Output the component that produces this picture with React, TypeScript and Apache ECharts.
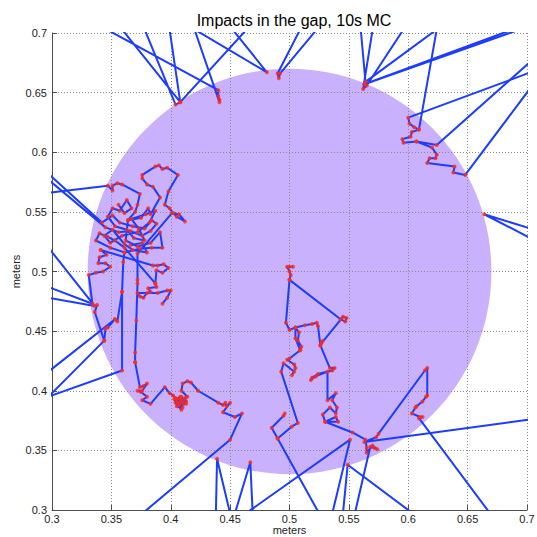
import { useEffect, useRef } from 'react';
import * as echarts from 'echarts';

const chartTitle = 'Impacts in the gap, 10s MC';
const axisName = 'meters';
const xTicks = [0.3, 0.35, 0.4, 0.45, 0.5, 0.55, 0.6, 0.65, 0.7];
const yTicks = [0.3, 0.35, 0.4, 0.45, 0.5, 0.55, 0.6, 0.65, 0.7];
const gapCenter = [0.5, 0.5];
const gapRadius = 0.17;

// Impact trajectory pieces (meters); points beyond 0.3..0.7 lie outside the axes and are clipped
const topLeftFan = [[0.346,0.703],[0.440,0.652],[0.440,0.647],[0.441,0.644],[0.441,0.642],[0.420,0.703],[0.481,0.667],[0.452,0.703],[0.464,0.703],[0.408,0.642],[0.399,0.703],[0.378,0.703],[0.404,0.640],[0.408,0.642],[0.359,0.703]];
const topPair = [[0.509,0.703],[0.490,0.666],[0.491,0.662],[0.492,0.666],[0.523,0.703]];
const topRightFan = [[0.703,0.667],[0.600,0.629],[0.601,0.624],[0.605,0.621],[0.609,0.619],[0.624,0.703],[0.564,0.659],[0.560,0.703],[0.570,0.703],[0.562,0.653],[0.565,0.656],[0.596,0.703],[0.688,0.703],[0.563,0.657],[0.694,0.703]];
const arcUpper = [[0.703,0.676],[0.624,0.606],[0.607,0.609],[0.596,0.608],[0.595,0.611],[0.602,0.613],[0.603,0.617],[0.609,0.619]];
const arcLower = [[0.607,0.609],[0.620,0.604],[0.624,0.598],[0.623,0.595],[0.618,0.595],[0.616,0.591],[0.639,0.588],[0.638,0.583],[0.648,0.581],[0.703,0.654]];
const rightEdge = [[0.703,0.536],[0.664,0.548],[0.703,0.528]];
const clusterLoop = [[0.297,0.566],[0.347,0.572],[0.351,0.568],[0.351,0.572],[0.355,0.574],[0.359,0.573],[0.374,0.565],[0.372,0.556],[0.370,0.550],[0.364,0.543],[0.375,0.545],[0.381,0.553],[0.383,0.548],[0.391,0.562],[0.385,0.571],[0.380,0.573],[0.376,0.578],[0.376,0.581],[0.387,0.588],[0.390,0.589],[0.393,0.586],[0.397,0.587],[0.406,0.581],[0.398,0.567],[0.395,0.556],[0.399,0.553],[0.402,0.549],[0.405,0.546],[0.412,0.542],[0.407,0.548],[0.401,0.549],[0.372,0.515],[0.372,0.493],[0.372,0.490],[0.371,0.459],[0.370,0.432],[0.370,0.424]];
const clusterCore = [[0.297,0.582],[0.342,0.541],[0.351,0.547],[0.357,0.541],[0.368,0.538],[0.378,0.536],[0.384,0.543],[0.388,0.540],[0.383,0.534],[0.376,0.530],[0.366,0.534],[0.356,0.533],[0.345,0.537],[0.297,0.577]];
const clusterTangle = [[0.356,0.556],[0.361,0.549],[0.367,0.553],[0.363,0.560],[0.357,0.551],[0.351,0.553],[0.347,0.546],[0.353,0.538],[0.363,0.535],[0.369,0.528],[0.378,0.526],[0.373,0.536],[0.367,0.544],[0.379,0.548],[0.387,0.551],[0.382,0.541],[0.372,0.533],[0.359,0.530],[0.349,0.524],[0.344,0.530],[0.351,0.535],[0.361,0.523],[0.368,0.518],[0.380,0.516],[0.376,0.524],[0.366,0.522]];
const clusterLower = [[0.364,0.543],[0.362,0.526],[0.372,0.521],[0.383,0.524],[0.391,0.533],[0.393,0.520],[0.384,0.520],[0.374,0.519],[0.361,0.516],[0.349,0.520],[0.337,0.526],[0.340,0.532],[0.347,0.529],[0.353,0.526],[0.361,0.520],[0.387,0.490],[0.388,0.487],[0.381,0.486],[0.383,0.483],[0.380,0.482],[0.377,0.478],[0.374,0.479],[0.372,0.482],[0.389,0.482],[0.397,0.484],[0.400,0.484],[0.397,0.478],[0.393,0.473]];
const clusterSmallLoop = [[0.341,0.518],[0.385,0.505],[0.389,0.505],[0.394,0.506],[0.398,0.503],[0.393,0.499],[0.388,0.501],[0.387,0.490]];
const clusterLeftEdge = [[0.341,0.518],[0.346,0.514],[0.340,0.512],[0.339,0.507],[0.345,0.507],[0.349,0.504],[0.343,0.500],[0.337,0.499],[0.331,0.497],[0.334,0.473],[0.297,0.487],[0.297,0.478],[0.336,0.471],[0.297,0.520]];
const clusterVertical = [[0.361,0.516],[0.360,0.508],[0.359,0.483],[0.359,0.417],[0.297,0.395],[0.344,0.442],[0.336,0.466],[0.338,0.472]];
const clusterSpur = [[0.297,0.416],[0.353,0.460],[0.355,0.458],[0.359,0.483]];
const clusterSpur2 = [[0.353,0.460],[0.347,0.453],[0.345,0.452],[0.344,0.442]];
const lowerLeftWalk = [[0.370,0.424],[0.374,0.403],[0.377,0.404],[0.380,0.406],[0.376,0.400],[0.372,0.400],[0.375,0.399],[0.380,0.395],[0.376,0.392],[0.383,0.389],[0.395,0.403],[0.399,0.398],[0.402,0.396],[0.405,0.393],[0.408,0.395],[0.410,0.392],[0.406,0.390],[0.409,0.384],[0.404,0.390],[0.403,0.393],[0.407,0.388],[0.411,0.389],[0.413,0.391],[0.412,0.394],[0.414,0.395],[0.409,0.400],[0.410,0.406],[0.414,0.408],[0.417,0.407],[0.423,0.400],[0.440,0.390],[0.444,0.388],[0.446,0.390],[0.447,0.387],[0.450,0.390],[0.444,0.382],[0.454,0.378],[0.460,0.381],[0.450,0.359],[0.376,0.297]];
const lowerLeftKnot = [[0.404,0.394],[0.408,0.390],[0.405,0.387],[0.410,0.386],[0.408,0.393],[0.413,0.389],[0.409,0.395]];
const bottomV1 = [[0.438,0.297],[0.439,0.343],[0.450,0.297]];
const bottomV2 = [[0.454,0.297],[0.467,0.340],[0.469,0.297]];
const bottomV3 = [[0.463,0.297],[0.551,0.359],[0.536,0.297]];
const bottomV4 = [[0.545,0.297],[0.549,0.338],[0.604,0.297]];
const centreWalk = [[0.503,0.504],[0.500,0.504],[0.498,0.504],[0.500,0.500],[0.501,0.497],[0.500,0.493],[0.497,0.457],[0.500,0.451],[0.505,0.453],[0.508,0.449],[0.507,0.442],[0.510,0.437],[0.509,0.434],[0.505,0.444],[0.505,0.453],[0.513,0.455],[0.519,0.456],[0.523,0.457],[0.524,0.454],[0.526,0.438],[0.528,0.442],[0.527,0.440],[0.545,0.462],[0.548,0.461],[0.547,0.458],[0.543,0.460],[0.500,0.493]];
const centreLower = [[0.526,0.438],[0.534,0.419],[0.538,0.419],[0.536,0.417],[0.524,0.414],[0.519,0.411],[0.518,0.409],[0.522,0.412],[0.532,0.416],[0.532,0.392],[0.539,0.398],[0.536,0.392],[0.540,0.386],[0.539,0.381],[0.534,0.386],[0.528,0.380],[0.530,0.374],[0.541,0.374],[0.539,0.378],[0.530,0.374],[0.553,0.365],[0.564,0.359],[0.565,0.352],[0.565,0.348],[0.570,0.354],[0.572,0.352],[0.574,0.351],[0.568,0.353],[0.555,0.297]];
const centreRight = [[0.703,0.376],[0.563,0.357],[0.573,0.361],[0.575,0.364],[0.614,0.417],[0.616,0.419],[0.616,0.396],[0.615,0.395],[0.612,0.391],[0.607,0.387],[0.606,0.386],[0.603,0.381],[0.610,0.378],[0.612,0.378],[0.609,0.377],[0.669,0.297]];
const centreLeft = [[0.509,0.434],[0.500,0.427],[0.498,0.426],[0.504,0.422],[0.505,0.419],[0.502,0.413],[0.504,0.416],[0.495,0.423],[0.493,0.416],[0.507,0.373],[0.502,0.370],[0.490,0.360],[0.485,0.369],[0.495,0.379],[0.496,0.381]];
const centreTail = [[0.490,0.360],[0.525,0.297]];

const paths = [
  topLeftFan, topPair, topRightFan, arcUpper, arcLower, rightEdge,
  clusterLoop, clusterCore, clusterTangle, clusterLower, clusterSmallLoop, clusterLeftEdge,
  clusterVertical, clusterSpur, clusterSpur2, lowerLeftWalk, lowerLeftKnot,
  bottomV1, bottomV2, bottomV3, bottomV4,
  centreWalk, centreLower, centreRight, centreLeft, centreTail,
];

const FONT = '"Liberation Sans", Arial, Helvetica, sans-serif';
const fmt = (v: number) => String(parseFloat(v.toFixed(2)));

export default function App() {
  const ref = useRef<HTMLDivElement>(null);
  useEffect(() => {
    if (!ref.current) return;
    const chart = echarts.init(ref.current, null, { renderer: 'svg' });
    const lo = xTicks[0], hi = xTicks[xTicks.length - 1];
    const ylo = yTicks[0], yhi = yTicks[yTicks.length - 1];
    const inside = (p: number[]) => p[0] > lo && p[0] < hi && p[1] > ylo && p[1] < yhi;
    const dots: number[][] = [];
    paths.forEach((p) => p.forEach((pt) => { if (inside(pt)) dots.push(pt); }));

    const axisCommon = {
      type: 'value',
      nameLocation: 'middle',
      name: axisName,
      nameMoveOverlap: false,
      nameTextStyle: { fontSize: 11, color: '#222', fontFamily: FONT, lineHeight: 12 },
      axisLine: { show: true, onZero: false, lineStyle: { color: '#4d4d4d', width: 1 } },
      axisTick: { show: true, inside: true, length: 5, lineStyle: { color: '#4d4d4d' } },
      splitLine: { show: true, lineStyle: { color: '#8a8a8a', type: [1, 2], width: 1 } },
      z: 1,
    };

    chart.setOption({
      animation: false,
      backgroundColor: '#ffffff',
      textStyle: { fontFamily: FONT },
      title: {
        text: chartTitle,
        left: 289,
        top: 7,
        textAlign: 'center',
        textStyle: { fontSize: 16, fontWeight: 'normal', color: '#000', fontFamily: FONT },
      },
      grid: { left: 52, right: 10, top: 33, bottom: 27, containLabel: false, outerBoundsMode: 'none' },
      xAxis: {
        ...axisCommon,
        min: lo, max: hi, interval: xTicks[1] - xTicks[0],
        nameGap: 14,
        axisLabel: { fontSize: 11, color: '#222', margin: 3, formatter: fmt, fontFamily: FONT },
      },
      yAxis: {
        ...axisCommon,
        min: ylo, max: yhi, interval: yTicks[1] - yTicks[0],
        nameGap: 30,
        nameRotate: 90,
        axisLabel: { fontSize: 11, color: '#222', margin: 5, formatter: fmt, fontFamily: FONT },
      },
      series: [
        {
          type: 'custom',
          z: 0,
          silent: true,
          data: [[gapCenter[0], gapCenter[1], gapRadius]],
          renderItem: (_params: any, api: any) => {
            const c = api.coord([api.value(0), api.value(1)]);
            const rx = api.size([api.value(2), 0])[0];
            const ry = api.size([0, api.value(2)])[1];
            return { type: 'ellipse', shape: { cx: c[0], cy: c[1], rx, ry }, style: { fill: '#c9b1fd' } };
          },
        },
        ...paths.map((p) => ({
          type: 'line',
          data: p,
          showSymbol: false,
          symbol: 'none',
          clip: true,
          silent: true,
          z: 3,
          lineStyle: { color: '#1c3cff', width: 2 },
        })),
        {
          type: 'scatter',
          data: dots,
          symbolSize: 4,
          silent: true,
          clip: true,
          z: 4,
          itemStyle: { color: '#ff2a1a' },
        },
      ],
    });
    return () => chart.dispose();
  }, []);
  return <div ref={ref} style={{ position: 'absolute', left: 0, top: 0, width: 537, height: 537, background: '#fff' }} />;
}
